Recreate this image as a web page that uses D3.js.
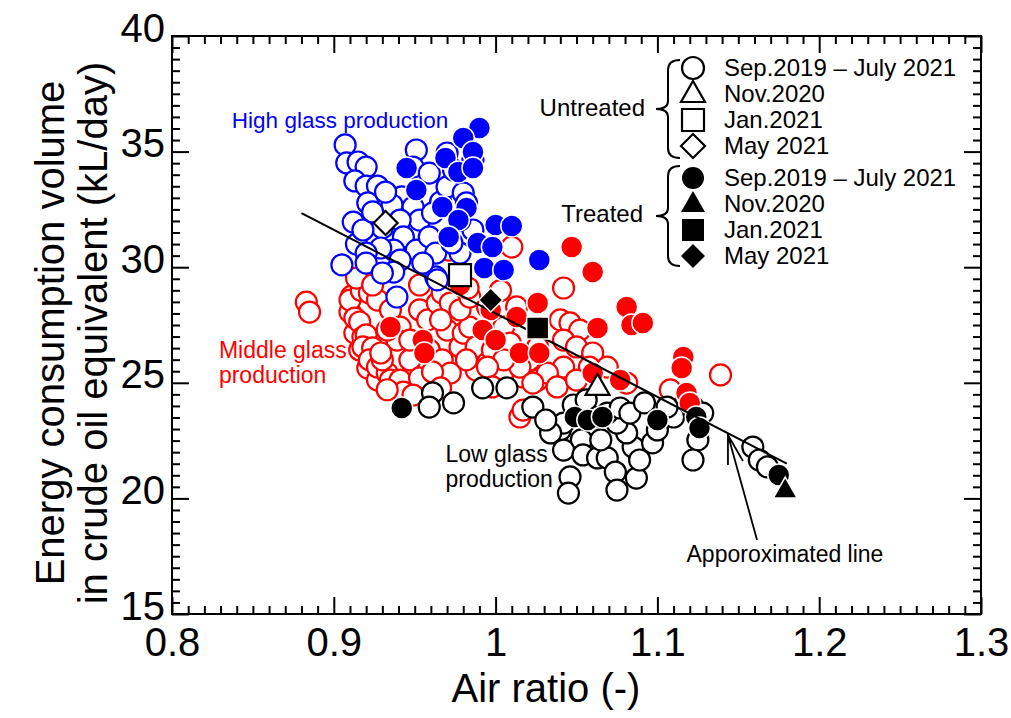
<!DOCTYPE html>
<meta charset="utf-8">
<style>
body { margin: 0; background: #fff; }
svg { display: block; font-family: Arial, "Liberation Sans", sans-serif; }
.axis path { display: none; }
.axis line { stroke: #000; stroke-width: 2px; }
.axis text { font-size: 40px; fill: #000; font-family: Arial, "Liberation Sans", sans-serif; }
</style>
<svg width="1011" height="718"></svg>
<script src="https://cdn.jsdelivr.net/npm/d3@7"></script>
<script>

// ---- data (air ratio, energy kL/day) ----
var highUntreated = [
  [0.907,35.29],[0.908,34.51],[0.915,34.55],[0.920,34.33],[0.913,33.73],[0.920,33.51],[0.927,33.51],
  [0.921,32.78],[0.912,31.95],[0.914,31.00],[0.905,30.10],[0.951,35.07],[0.949,34.33],[0.959,34.07],
  [0.942,33.04],[0.936,32.69],[0.932,33.25],[0.949,32.60],[0.953,32.04],[0.941,32.04],[0.930,31.70],
  [0.943,31.31],[0.951,30.74],[0.937,30.74],[0.929,30.83],[0.920,30.61],[0.941,30.31],[0.937,29.79],
  [0.959,31.31],[0.963,30.61],[0.963,29.58],[0.966,32.82],[0.970,33.47],[0.980,33.21],[0.982,32.78],
  [0.986,31.61],[0.978,30.61],[0.970,34.94],[0.974,34.20],[0.986,34.64],[0.961,32.34],[0.978,32.04],
  [0.955,30.18],[0.973,31.05],[0.939,28.71],[0.920,30.18],[0.930,29.75],[0.964,29.45],[0.918,31.61],
  [0.924,32.39]
];
var highTreated = [
  [0.990,36.02],[0.980,35.59],[0.986,34.98],[0.969,34.72],[0.977,34.12],[0.945,34.29],[0.951,33.34],
  [0.967,32.60],[0.982,32.56],[0.977,32.04],[0.971,31.31],[1.000,31.83],[1.010,31.78],[0.989,31.05],
  [0.998,30.87],[0.993,29.97],[1.005,29.88],[1.027,30.31],[0.986,34.29]
];
var middleUntreated = [
  [0.883,28.49],[0.885,28.06],[0.911,28.75],[0.910,28.06],[0.913,27.15],[0.916,26.42],[0.921,25.64],
  [0.927,25.12],[0.910,28.58],[0.913,27.80],[0.916,27.63],[0.918,26.98],[0.920,27.07],[0.918,26.55],
  [0.924,26.51],[0.922,25.99],[0.927,25.68],[0.933,25.42],[0.930,25.99],[0.935,25.12],[0.941,25.12],
  [0.943,24.60],[0.933,24.70],[0.917,28.99],[0.922,28.88],[0.927,28.58],[0.935,28.15],[0.941,27.41],
  [0.939,26.85],[0.929,26.29],[0.933,27.28],[0.953,28.15],[0.958,27.72],[0.964,28.45],[0.967,28.88],
  [0.970,27.28],[0.959,26.42],[0.967,25.99],[0.972,25.42],[0.978,26.55],[0.980,27.15],[0.984,27.41],
  [0.988,26.55],[0.995,25.86],[0.998,26.42],[1.005,27.41],[1.009,26.72],[1.013,25.99],[1.017,25.25],
  [1.021,25.99],[1.026,25.12],[1.015,23.52],[0.988,25.55],[0.982,25.99],[0.972,28.45],[0.978,28.15],
  [0.984,28.71],[0.947,25.99],[0.953,25.21],[0.961,25.47],[0.949,24.47],[0.966,24.78],[0.995,28.28],
  [1.013,28.28],[1.040,27.72],[1.046,27.59],[1.052,27.28],[1.042,26.85],[1.050,26.55],[1.060,26.29],
  [1.058,25.68],[1.069,25.68],[1.042,25.68],[1.032,25.42],[1.038,24.82],[1.050,25.12],[1.015,25.68],
  [1.005,25.99],[1.023,24.99],[0.995,25.68],[1.026,26.55],[0.998,24.82],[1.017,23.82],[1.081,24.99],
  [1.108,24.69],[1.139,25.34],[1.042,29.10],[1.010,30.87],[0.971,30.74],[0.914,29.53],[0.924,29.23],
  [0.953,29.23],[0.983,29.10],[0.966,27.72],[0.947,26.85],[1.003,28.99]
];
var middleTreated = [
  [0.935,27.41],[0.955,26.85],[0.956,26.29],[0.978,29.23],[0.997,28.15],[0.992,27.28],[1.000,26.85],
  [1.013,27.85],[1.026,28.45],[1.015,26.29],[1.027,26.29],[1.047,30.87],[1.060,29.79],[1.081,28.28],
  [1.084,27.50],[1.091,27.59],[1.063,27.37],[1.116,26.12],[1.115,25.64],[1.118,24.56],[1.120,24.13],
  [1.060,25.42],[1.077,25.12]
];
var lowUntreated = [
  [0.961,24.56],[0.959,23.95],[0.974,24.13],[0.992,24.78],[1.007,24.78],[1.023,23.95],[1.048,24.04],
  [1.040,22.96],[1.053,22.53],[1.042,22.09],[1.054,21.88],[1.046,20.93],[1.045,20.23],[1.063,21.75],
  [1.069,21.75],[1.074,21.14],[1.075,20.36],[1.087,20.88],[1.085,22.22],[1.081,22.83],[1.075,23.26],
  [1.069,23.69],[1.077,23.91],[1.083,23.69],[1.097,22.40],[1.100,22.96],[1.110,23.52],[1.106,23.95],
  [1.092,24.13],[1.060,23.52],[1.056,24.26],[1.042,23.26],[1.122,23.95],[1.125,22.53],[1.122,21.66],
  [1.128,23.69],[1.159,22.22],[1.163,21.66],[1.168,21.36],[1.034,22.83],[1.031,23.39],[1.065,22.53],
  [1.089,21.66]
];
var lowTreated = [
  [0.942,23.91],[1.049,23.52],[1.057,23.39],[1.066,23.52],[1.100,23.39],[1.124,23.52],[1.126,23.05],
  [1.175,21.01]
];
// special months: [x, y, shape, treated]
var specialPoints = [
  [0.932,31.91,"diamond",false],[0.978,29.66,"square",false],[1.063,24.82,"triangle",false],
  [0.997,28.58,"diamond",true],[1.026,27.37,"square",true],[1.179,20.36,"triangle",true]
];
var fitLine = [[0.880,32.34],[1.180,21.50]];

var xTicks = [0.8,0.9,1,1.1,1.2,1.3];
var yTicks = [15,20,25,30,35,40];
var legendLabels = ["Sep.2019 \u2013 July 2021","Nov.2020","Jan.2021","May 2021"];
var legendShapes = ["circle","triangle","square","diamond"];

var svg = d3.select("svg"),
    pL = 172, pT = 36, pR = 981, pB = 614;

var x = d3.scaleLinear().domain([0.8,1.3]).range([pL,pR]),
    y = d3.scaleLinear().domain([15,40]).range([pB,pT]);

var xMinor = d3.range(80,131).map(function(d){ return d/100; }).filter(function(d){ return Math.round(d*100)%10; }),
    yMinor = d3.range(30,81).map(function(d){ return d/2; }).filter(function(d){ return d%5; });

// axes, ticks pointing inward on all four sides
function ax(gen, tr, vals, len, fmt) {
  var a = gen.tickValues(vals).tickSizeInner(-len).tickSizeOuter(0);
  if (fmt) a.tickFormat(fmt); else a.tickFormat("");
  return svg.append("g").attr("class","axis").attr("transform",tr).call(a);
}
ax(d3.axisBottom(x), "translate(0,"+pB+")", xMinor, 8);
ax(d3.axisTop(x), "translate(0,"+pT+")", xMinor, 8);
ax(d3.axisLeft(y), "translate("+pL+",0)", yMinor, 8);
ax(d3.axisRight(y), "translate("+pR+",0)", yMinor, 8);
ax(d3.axisBottom(x).tickPadding(14), "translate(0,"+pB+")", xTicks, 17, d3.format("~g"));
ax(d3.axisTop(x), "translate(0,"+pT+")", xTicks, 17);
var ya = ax(d3.axisLeft(y).tickPadding(7), "translate("+pL+",0)", yTicks, 17, d3.format("d"));
ya.selectAll("text").attr("dy", 5);
ax(d3.axisRight(y), "translate("+pR+",0)", yTicks, 17);

svg.append("rect").attr("x",pL).attr("y",pT).attr("width",pR-pL).attr("height",pB-pT)
  .attr("fill","none").attr("stroke","#000").attr("stroke-width",2);

// axis titles
svg.append("text").attr("x",546).attr("y",702).attr("text-anchor","middle")
  .style("font-size","40px").text("Air ratio (-)");
var yt = svg.append("text").attr("transform","translate(0,"+((pT+pB)/2+8)+") rotate(-90)")
  .attr("text-anchor","middle").style("font-size","40px");
yt.append("tspan").attr("x",0).attr("y",64).text("Energy consumption volume");
yt.append("tspan").attr("x",0).attr("y",107).text("in crude oil equivalent (kL/day)");

// scatter
var plot = svg.append("g");
var R = 10.5;
function openDots(data, col) {
  plot.append("g").selectAll("circle").data(data).enter().append("circle")
    .attr("cx",function(d){ return x(d[0]); }).attr("cy",function(d){ return y(d[1]); })
    .attr("r",R).attr("fill","#fff").attr("stroke",col).attr("stroke-width",2.2);
}
function filledDots(data, col) {
  plot.append("g").selectAll("circle").data(data).enter().append("circle")
    .attr("cx",function(d){ return x(d[0]); }).attr("cy",function(d){ return y(d[1]); })
    .attr("r",R+0.5).attr("fill",col).attr("stroke","#fff").attr("stroke-width",1.5);
}
openDots(middleUntreated, "#ff0000");
openDots(lowUntreated, "#000");
openDots(highUntreated, "#0000ff");
filledDots(middleTreated, "#ff0000");
filledDots(lowTreated, "#000");
filledDots(highTreated, "#0000ff");

// approximated line
plot.append("path").attr("d", d3.line().x(function(d){ return x(d[0]); }).y(function(d){ return y(d[1]); })(fitLine))
  .attr("fill","none").attr("stroke","#000").attr("stroke-width",2);

function shapePath(s) {
  if (s === "circle") return d3.symbol(d3.symbolCircle, Math.PI*11*11)();
  if (s === "triangle") return "M0,-13L12,8L-12,8Z";
  if (s === "square") return "M-11,-11h22v22h-22Z";
  return "M0,-12L12,0L0,12L-12,0Z";
}
plot.append("g").selectAll("path").data(specialPoints).enter().append("path")
  .attr("transform",function(d){ return "translate("+x(d[0])+","+y(d[1])+")"; })
  .attr("d",function(d){ return shapePath(d[2]); })
  .attr("fill",function(d){ return d[3] ? "#000" : "#fff"; })
  .attr("stroke",function(d){ return d[3] ? "#fff" : "#000"; })
  .attr("stroke-width",function(d){ return d[3] ? 1.5 : 2.2; });

// group labels, one text per line
function label(tx, ty, lines, col, size) {
  lines.forEach(function(s,i){
    svg.append("text").attr("fill",col).style("font-size",size+"px")
      .attr("x",x(tx)).attr("y",y(ty[i])).text(s);
  });
}
label(0.837, [36.02], ["High glass production"], "#0000ff", 22.5);
label(0.829, [26.07,24.99], ["Middle glass","production"], "#ff0000", 23);
label(0.969, [21.57,20.49], ["Low glass","production"], "#000", 23);
label(1.118, [17.25], ["Apporoximated line"], "#000", 23);

// arrow to the line
var tip = [x(1.1436), y(22.74)], tail = [x(1.1616), y(18.20)];
svg.append("path").attr("d","M"+tail+"L"+tip+"M"+[tip[0],tip[1]+30]+"L"+tip+"L"+[tip[0]+15,tip[1]+26])
  .attr("fill","none").attr("stroke","#000").attr("stroke-width",1.8);

// legend
function brace(xe, y0, y1) {
  var ym = (y0+y1)/2, xb = xe-12, xt = xe-24;
  return "M"+xe+","+y0+"Q"+xb+","+y0+" "+xb+","+(y0+10)+"L"+xb+","+(ym-8)+"Q"+xb+","+ym+" "+xt+","+ym+
    "Q"+xb+","+ym+" "+xb+","+(ym+8)+"L"+xb+","+(y1-10)+"Q"+xb+","+y1+" "+xe+","+y1;
}
var groups = [
  {name:"Untreated", treated:false, y0:60, y1:158, ys:[68,94,120,146], nameX:645, nameY:116},
  {name:"Treated", treated:true, y0:166, y1:266, ys:[178,204,230,256], nameX:643, nameY:222}
];
var lg = svg.append("g");
groups.forEach(function(g) {
  lg.append("path").attr("d",brace(680,g.y0,g.y1)).attr("fill","none").attr("stroke","#000").attr("stroke-width",2);
  lg.append("text").attr("x",g.nameX).attr("y",g.nameY).attr("text-anchor","end").style("font-size","24px").text(g.name);
  legendShapes.forEach(function(s,i) {
    lg.append("path").attr("transform","translate(693,"+g.ys[i]+")").attr("d",shapePath(s))
      .attr("fill",g.treated ? "#000" : "#fff").attr("stroke",g.treated ? "none" : "#000").attr("stroke-width",2.2);
    lg.append("text").attr("x",724).attr("y",g.ys[i]+8).style("font-size","24px").text(legendLabels[i]);
  });
});

</script>
